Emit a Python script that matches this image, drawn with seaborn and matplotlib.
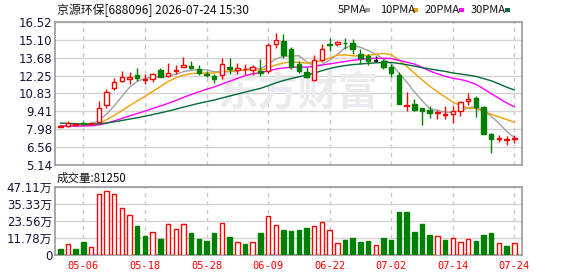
import numpy as np
import pandas as pd
import matplotlib
matplotlib.use("Agg")
import matplotlib.pyplot as plt
from matplotlib.patches import Rectangle
import seaborn as sns

# ---------------- data ----------------
dates = ["04-28", "04-29", "04-30", "05-06", "05-07", "05-08", "05-11", "05-12", "05-13", "05-14",
         "05-15", "05-18", "05-19", "05-20", "05-21", "05-22", "05-25", "05-26", "05-27", "05-28",
         "05-29", "06-01", "06-02", "06-03", "06-04", "06-05", "06-08", "06-09", "06-10", "06-11",
         "06-12", "06-15", "06-16", "06-17", "06-18", "06-22", "06-23", "06-24", "06-25", "06-26",
         "06-29", "06-30", "07-01", "07-02", "07-03", "07-06", "07-07", "07-08", "07-09", "07-10",
         "07-13", "07-14", "07-15", "07-16", "07-17", "07-20", "07-21", "07-22", "07-23", "07-24"]

opens = [8.20, 8.24, 8.36, 8.52, 8.44, 8.56, 9.89, 11.24, 11.85, 12.02,
         12.33, 11.93, 11.96, 12.67, 12.20, 12.66, 12.97, 12.99, 12.81, 12.41,
         12.20, 12.28, 12.94, 12.70, 12.78, 12.70, 12.60, 12.59, 14.74, 15.01,
         14.37, 13.15, 12.56, 11.90, 13.47, 14.80, 14.74, 14.87, 14.82, 13.95,
         13.81, 13.44, 13.39, 12.94, 12.33, 9.82, 9.99, 9.68, 9.54, 9.28,
         9.09, 9.20, 9.44, 10.21, 10.45, 9.76, 7.58, 7.18, 7.15, 7.18]
highs = [8.30, 8.62, 8.50, 8.62, 8.56, 10.23, 11.22, 12.09, 12.59, 12.54,
         12.86, 12.35, 12.49, 12.89, 13.26, 13.07, 13.76, 13.42, 13.07, 12.65,
         12.41, 13.66, 13.66, 13.23, 13.15, 13.12, 13.55, 14.85, 15.64, 15.59,
         14.55, 13.40, 12.94, 13.92, 14.80, 15.25, 15.03, 15.25, 15.19, 14.40,
         14.00, 13.79, 13.55, 13.20, 12.54, 10.95, 10.37, 9.68, 9.84, 9.52,
         9.81, 9.84, 10.26, 10.87, 10.63, 9.84, 7.69, 7.55, 7.42, 7.55]
lows = [8.14, 8.14, 8.30, 8.33, 8.40, 8.46, 9.70, 11.08, 11.72, 11.61,
        11.85, 11.61, 11.75, 12.12, 12.12, 12.36, 12.95, 12.75, 12.28, 12.17,
        11.69, 12.01, 12.38, 12.41, 12.33, 12.33, 12.22, 12.49, 14.45, 13.68,
        12.81, 12.50, 12.09, 11.80, 13.34, 14.19, 14.61, 14.40, 14.00, 13.20,
        13.07, 13.42, 12.81, 12.14, 10.02, 9.41, 9.41, 8.35, 8.88, 8.83,
        8.83, 8.51, 9.04, 9.89, 8.96, 7.63, 6.10, 6.97, 6.76, 6.92]
closes = [8.23, 8.45, 8.42, 8.38, 8.50, 9.68, 10.95, 11.72, 12.12, 12.14,
          12.09, 12.00, 12.38, 12.17, 12.46, 12.73, 13.10, 12.89, 12.49, 12.33,
          12.01, 13.15, 12.78, 12.86, 12.81, 12.91, 12.49, 14.66, 15.06, 13.87,
          12.96, 12.65, 12.17, 13.50, 14.34, 14.72, 14.93, 14.82, 14.40, 13.66,
          13.44, 13.44, 12.94, 12.49, 10.02, 9.89, 9.52, 9.41, 9.30, 9.36,
          9.17, 9.41, 10.15, 10.39, 9.76, 7.63, 7.24, 7.26, 7.22, 7.26]
volumes = [42000, 74000, 42000, 90000, 55000, 420000, 441000, 420000, 323000, 275000,
           201000, 132000, 157000, 111000, 212000, 178000, 212000, 152000, 111000, 97000,
           152000, 219000, 125000, 88000, 76000, 88000, 152000, 268000, 206000, 173000,
           166000, 173000, 187000, 199000, 226000, 171000, 81000, 104000, 118000, 90000,
           97000, 67000, 118000, 104000, 298000, 298000, 159000, 215000, 139000, 129000,
           104000, 115000, 88000, 109000, 97000, 139000, 152000, 81000, 62000, 81250]
# closes of the 29 sessions before the window (only used by the moving averages)
hist_closes = [9.05, 8.98, 9.10, 8.95, 8.90, 9.02, 8.96, 8.88, 8.92, 8.85,
               8.40, 8.32, 8.25, 8.18, 8.22, 8.15, 8.20, 8.12, 8.18, 8.25,
               8.20, 8.16, 8.22, 8.28, 8.20, 8.18, 8.24, 8.26, 8.30]

tick_labels = ["05-06", "05-18", "05-28", "06-09", "06-22", "07-02", "07-14", "07-24"]
price_ticks = [5.14, 6.56, 7.98, 9.41, 10.83, 12.25, 13.68, 15.10, 16.52]
price_tick_labels = ["5.14", "6.56", "7.98", "9.41", "10.83", "12.25", "13.68", "15.10", "16.52"]
vol_ticks = [0, 117800, 235600, 353300, 471100]
vol_tick_labels = ["0", "11.78万", "23.56万", "35.33万", "47.11万"]
ma_periods = [5, 10, 20, 30]
ma_names = ["5PMA", "10PMA", "20PMA", "30PMA"]
ma_colors = ["#a0a0a0", "#f0a000", "#ff00ff", "#006a3a"]
title = "京源环保[688096] 2026-07-24 15:30"
vol_title = "成交量:81250"

# ---------------- style ----------------
sns.set_theme(style="white")
plt.rcParams["font.family"] = ["DejaVu Sans", "Noto Sans CJK SC"]
RED = "#ff0000"
GREEN = "#008000"
GRID = "#d4d4d4"
SPINE = "#9a9a9a"

W, H = 578, 276
fig = plt.figure(figsize=(W / 100, H / 100), dpi=100)
fig.patch.set_facecolor("white")
ax = fig.add_axes([55 / W, 1 - 165 / H, (522 - 55) / W, (165 - 22) / H])
axv = fig.add_axes([55 / W, 1 - 255 / H, (522 - 55) / W, (255 - 187) / H])

n = len(closes)
x = np.arange(n)
o = np.array(opens); h = np.array(highs); l = np.array(lows); c = np.array(closes)
up = c > o
down = c < o
flat = c == o
tick_pos = [dates.index(t) for t in tick_labels]

# ---------------- price panel ----------------
all_close = pd.Series(list(hist_closes) + list(closes))
mas = {}
for p, name in zip(ma_periods, ma_names):
    mas[name] = all_close.rolling(p).mean().values[len(hist_closes):]
ma_df = pd.DataFrame({"x": x, **mas}).melt(id_vars="x", var_name="ma", value_name="v")
sns.lineplot(data=ma_df, x="x", y="v", hue="ma", palette=dict(zip(ma_names, ma_colors)),
             hue_order=ma_names, linewidth=1.0, legend=False, ax=ax, zorder=3)

wick_colors = np.where(up, RED, np.where(down, GREEN, "black"))
ax.vlines(x, l, h, colors=wick_colors, linewidth=1.0, zorder=4)
bw = 0.58
body_bottom = np.minimum(o, c)
body_h = np.maximum(np.abs(c - o), 0.03)
ax.bar(x[up], body_h[up], bottom=body_bottom[up], width=bw, facecolor="white",
       edgecolor=RED, linewidth=1.0, zorder=5)
ax.bar(x[down], body_h[down], bottom=body_bottom[down], width=bw, facecolor=GREEN,
       edgecolor=GREEN, linewidth=1.0, zorder=5)
ax.hlines(c[flat], x[flat] - bw / 2, x[flat] + bw / 2, colors="black", linewidth=1.2, zorder=5)

ax.set_xlim(-0.69, n)
ax.set_ylim(price_ticks[0], price_ticks[-1])
ax.set_yticks(price_ticks, price_tick_labels)
ax.set_xticks(tick_pos)
ax.set_xticklabels([])
ax.yaxis.grid(True, color=GRID, linewidth=1.0)
ax.xaxis.grid(True, color="#c8c8c8", linewidth=1.0, linestyle=(0, (3, 3)))
ax.set_axisbelow(True)
ax.set_xlabel("")
ax.set_ylabel("")
ax.tick_params(axis="both", length=0, pad=2)
ax.tick_params(axis="y", labelsize=8.5, labelcolor="#14143c")

ax.text(0.52, 0.50, "东方财富", transform=ax.transAxes, fontsize=29, fontweight="bold",
        fontstyle="italic", color="#ebebef", ha="center", va="center", zorder=1,
        family=["Noto Sans CJK SC"])

# ---------------- volume panel ----------------
vol_up = c >= np.array([hist_closes[-1]] + list(closes[:-1]))
vdf = pd.DataFrame({"x": x, "vol": volumes, "dir": np.where(vol_up, "up", "down")})
sns.barplot(data=vdf, x="x", y="vol", hue="dir", palette={"up": RED, "down": GREEN},
            dodge=False, width=bw, order=list(range(n)), errorbar=None, saturation=1,
            legend=False, ax=axv)
for p in axv.patches:
    fc = p.get_facecolor()
    if fc[0] > 0.9 and fc[1] < 0.2:
        p.set_facecolor("white")
        p.set_edgecolor(RED)
    else:
        p.set_edgecolor(GREEN)
    p.set_linewidth(1.0)
    p.set_zorder(3)

axv.set_xlim(-0.69, n)
axv.set_ylim(0, vol_ticks[-1])
axv.set_yticks(vol_ticks, vol_tick_labels)
axv.set_xticks(tick_pos, tick_labels)
axv.yaxis.grid(True, color=GRID, linewidth=1.0)
axv.xaxis.grid(True, color="#c8c8c8", linewidth=1.0, linestyle=(0, (3, 3)))
axv.set_axisbelow(True)
axv.set_xlabel("")
axv.set_ylabel("")
axv.tick_params(axis="both", length=0)
axv.tick_params(axis="y", labelsize=8.5, labelcolor="#14143c", pad=2)
axv.tick_params(axis="x", labelsize=7.5, labelcolor=RED, pad=4)
for lab in axv.get_xticklabels():
    lab.set_family(["DejaVu Sans Mono"])

for a in (ax, axv):
    for s in a.spines.values():
        s.set_color(SPINE)
        s.set_linewidth(1.2)

# ---------------- header texts ----------------
fig.text(57 / W, 1 - 10 / H, title, fontsize=8.6, color="#111111", va="center", ha="left",
         family=["Noto Sans CJK SC", "DejaVu Sans"])
fig.text(57 / W, 1 - 178 / H, vol_title, fontsize=8.3, color="#111111", va="center", ha="left",
         family=["Noto Sans CJK SC", "DejaVu Sans"])
leg_x = [338, 380, 425, 471]
for xx, name in zip(leg_x, ma_names):
    fig.text(xx / W, 1 - 10 / H, name, fontsize=8, color="#111111", va="center", ha="left",
             family=["Noto Sans CJK SC", "DejaVu Sans"])
leg_sq = [365, 413, 459, 505]
for xx, col in zip(leg_sq, ma_colors):
    fig.patches.append(Rectangle((xx / W, 1 - 11.5 / H), 5 / W, 3.5 / H, transform=fig.transFigure,
                                 facecolor=col, edgecolor="none"))

fig.savefig("out.png", dpi=100)
